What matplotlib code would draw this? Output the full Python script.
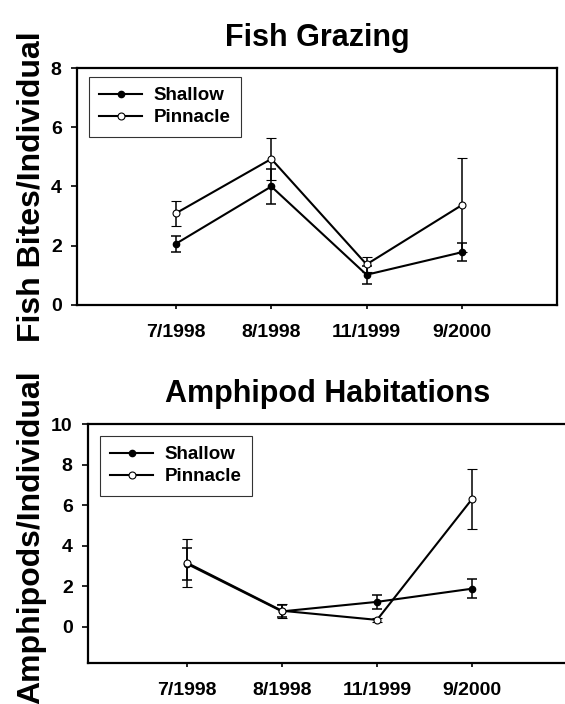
import matplotlib
matplotlib.use('Agg')
import matplotlib.pyplot as plt
from matplotlib.lines import Line2D

plt.rcParams['font.family'] = ['Liberation Sans', 'DejaVu Sans']
plt.rcParams['font.weight'] = 'bold'

dates = ['7/1998', '8/1998', '11/1999', '9/2000']
pos = [1, 2, 3, 4]

# Fish Grazing
fish_shallow = [2.07, 4.0, 1.02, 1.78]
fish_shallow_err = [0.27, 0.59, 0.31, 0.3]
fish_pinnacle = [3.1, 4.93, 1.37, 3.37]
fish_pinnacle_err = [0.42, 0.71, 0.25, 1.58]

# Amphipod Habitations
amph_shallow = [3.1, 0.75, 1.22, 1.87]
amph_shallow_err = [0.78, 0.3, 0.36, 0.47]
amph_pinnacle = [3.15, 0.78, 0.33, 6.3]
amph_pinnacle_err = [1.18, 0.35, 0.1, 1.48]

fig = plt.figure(figsize=(5.65, 7.04), dpi=100)
ax1 = fig.add_axes([0.1363, 0.5668, 0.8496, 0.3366])
ax2 = fig.add_axes([0.1558, 0.0582, 0.848, 0.3395])


def draw(ax, s, se, p, pe, title, ylim, yticks, leg_y):
    ax.errorbar(pos, s, yerr=se, color='black', lw=1.5, marker='o', ms=4.5,
                mfc='black', mec='black', capsize=3.5, elinewidth=1.1,
                capthick=1.1, zorder=3)
    ax.errorbar(pos, p, yerr=pe, color='black', lw=1.5, marker='o', ms=5,
                mfc='white', mec='black', mew=0.8, capsize=3.5, elinewidth=1.1,
                capthick=1.1, zorder=4)
    ax.set_xlim(-0.04, 5.0)
    ax.set_ylim(*ylim)
    ax.set_yticks(yticks)
    ax.set_xticks(pos)
    ax.set_xticklabels(dates)
    ax.tick_params(axis='x', length=3, width=1.2, pad=11, labelsize=14)
    ax.tick_params(axis='y', length=4, width=1.2, pad=7, labelsize=14)
    for sp in ax.spines.values():
        sp.set_linewidth(1.6)
    ax.set_title(title, fontsize=22, fontweight='bold', pad=16)
    handles = [
        Line2D([], [], color='black', lw=1.5, marker='o', ms=4.5,
               mfc='black', mec='black'),
        Line2D([], [], color='black', lw=1.5, marker='o', ms=5,
               mfc='white', mec='black', mew=0.8),
    ]
    leg = ax.legend(handles, ['Shallow', 'Pinnacle'], loc='upper left',
                    fontsize=13.5, frameon=True, fancybox=False,
                    edgecolor='black', handlelength=2.3, handletextpad=0.6,
                    borderpad=0.55, labelspacing=0.25, borderaxespad=0,
                    bbox_to_anchor=(0.025, leg_y))
    leg.get_frame().set_linewidth(0.8)
    return ax


draw(ax1, fish_shallow, fish_shallow_err, fish_pinnacle, fish_pinnacle_err,
     'Fish Grazing', (0, 8), [0, 2, 4, 6, 8], 0.962)
draw(ax2, amph_shallow, amph_shallow_err, amph_pinnacle, amph_pinnacle_err,
     'Amphipod Habitations', (-1.8, 10), [0, 2, 4, 6, 8, 10], 0.95)

fig.text(32 / 565, 1 - 187 / 704, 'Fish Bites/Individual', rotation=90,
         ha='center', va='center', fontsize=23, fontweight='bold')
fig.text(31 / 565, 1 - 537 / 704, 'Amphipods/Individual', rotation=90,
         ha='center', va='center', fontsize=23, fontweight='bold')

fig.savefig('out.png', dpi=100)
